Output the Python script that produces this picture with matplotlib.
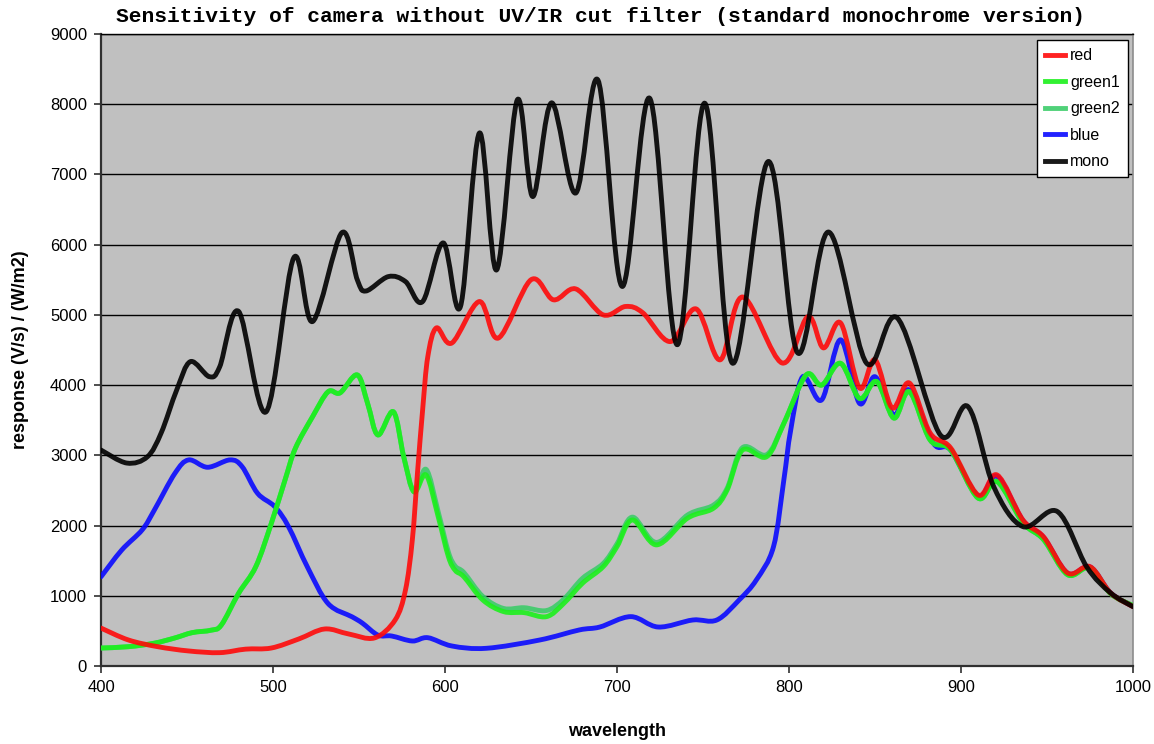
import matplotlib
matplotlib.use("Agg")
import matplotlib.pyplot as plt
from matplotlib.path import Path
from matplotlib.patches import PathPatch
from matplotlib.lines import Line2D

# values (wavelength nm, response)
mono_x = [400, 415, 427, 435, 444, 452, 463, 469, 480, 496, 512, 523,
          540, 549, 554, 567, 577, 587, 599, 609, 620, 630, 642, 651, 662, 676,
          689, 703, 719, 735, 751, 767, 788, 805, 823, 845, 863, 888, 904, 919, 936,
          956, 973, 987, 1000]
mono_y = [3075, 2890, 2980, 3320, 3930, 4335, 4120, 4260, 5050, 3620, 5810, 4905,
          6170, 5500, 5340, 5545, 5475, 5190, 6025, 5120, 7590, 5640, 8060, 6685, 8020, 6735,
          8340, 5405, 8085, 4575, 8015, 4315, 7185, 4460, 6180, 4315, 4955, 3290, 3695, 2555, 1985,
          2200, 1415, 1040, 845]

red_x = [400, 416, 433, 451, 469, 484, 499, 515, 530, 544, 559, 571, 577, 581, 584,
         587, 590, 595, 604, 620, 631, 650, 663, 676, 692, 705, 715, 731, 746, 760,
         773, 796, 811, 820, 830, 841, 850, 860, 870, 882, 894, 910, 921, 936, 948,
         962, 975, 987, 1000]
red_y = [540, 370, 275, 214, 190, 240, 256, 385, 527, 456, 400, 655, 1080, 1795, 2750,
         3650, 4405, 4815, 4600, 5190, 4670, 5500, 5215, 5370, 5000, 5120, 5030, 4620, 5085, 4360,
         5255, 4315, 4975, 4530, 4885, 3960, 4360, 3675, 4030, 3320, 3105, 2435, 2720, 2080, 1840,
         1325, 1415, 1040, 845]

blue_x = [400, 412, 424, 431, 443, 451, 462, 475, 482, 491, 501, 509, 520, 532, 546,
          552, 561, 569, 581, 590, 604, 624, 655, 678, 690, 708, 724, 744, 758, 771,
          781, 791, 797, 801, 808, 819, 830, 841, 850, 861, 870, 884, 894, 910, 921,
          936, 948, 962, 975, 987, 1000]
blue_y = [1270, 1650, 1940, 2220, 2745, 2935, 2830, 2935, 2840, 2460, 2270, 1985, 1410, 890, 700,
          610, 440, 427, 356, 403, 285, 252, 370, 513, 555, 703, 555, 655, 655, 940,
          1225, 1700, 2650, 3360, 4120, 3790, 4645, 3740, 4120, 3575, 3930, 3170, 3075, 2420, 2700,
          2070, 1830, 1320, 1410, 1040, 850]

green_x = [400, 416, 431, 443, 453, 464, 470, 480, 490, 499, 507, 513, 523, 532, 539,
           549, 555, 561, 570, 576, 582, 589, 596, 602, 606, 611, 622, 634, 646, 659,
           669, 680, 692, 700, 709, 723, 741, 756, 764, 773, 787, 797, 810, 819, 830,
           841, 851, 861, 870, 882, 894, 910, 921, 936, 948, 962, 975, 987, 1000]
green1_y = [256, 275, 325, 400, 475, 510, 585, 1035, 1415, 2030, 2650, 3100, 3550, 3905, 3890,
            4145, 3740, 3290, 3620, 2980, 2480, 2720, 2130, 1555, 1360, 1270, 940, 775, 760, 703,
            890, 1180, 1415, 1700, 2080, 1725, 2105, 2245, 2505, 3075, 2980, 3455, 4145, 4000, 4310,
            3810, 4050, 3530, 3905, 3220, 3075, 2390, 2625, 2040, 1800, 1300, 1400, 1030, 860]
green2_y = [256, 275, 325, 400, 475, 510, 585, 1035, 1415, 2030, 2650, 3100, 3550, 3905, 3890,
            4145, 3740, 3290, 3620, 2980, 2480, 2800, 2200, 1620, 1420, 1330, 990, 820, 830, 790,
            950, 1250, 1460, 1740, 2120, 1760, 2150, 2290, 2530, 3110, 3010, 3455, 4145, 4000, 4310,
            3810, 4050, 3530, 3905, 3220, 3075, 2390, 2625, 2040, 1800, 1300, 1400, 1030, 860]

series = [
    ("blue", blue_x, blue_y, "#0a0aff"),
    ("green2", green_x, green2_y, "#3dcc6a"),
    ("green1", green_x, green1_y, "#1cf01c"),
    ("red", red_x, red_y, "#ff0a0a"),
    ("mono", mono_x, mono_y, "#000000"),
]
legend_order = ["red", "green1", "green2", "blue", "mono"]


def smooth_path(xs, ys):
    # excel-like smoothed line: bezier segments through the read points
    pts = list(zip(xs, ys))
    verts = [pts[0]]
    codes = [Path.MOVETO]
    n = len(pts)
    for i in range(n - 1):
        p0 = pts[max(i - 1, 0)]
        p1 = pts[i]
        p2 = pts[i + 1]
        p3 = pts[min(i + 2, n - 1)]
        c1 = (p1[0] + (p2[0] - p0[0]) / 6, p1[1] + (p2[1] - p0[1]) / 6)
        c2 = (p2[0] - (p3[0] - p1[0]) / 6, p2[1] - (p3[1] - p1[1]) / 6)
        verts += [c1, c2, p2]
        codes += [Path.CURVE4] * 3
    return Path(verts, codes)


plt.rcParams["font.family"] = ["Liberation Sans", "DejaVu Sans"]

fig = plt.figure(figsize=(11.54, 7.44), dpi=100)
ax = fig.add_axes([101 / 1154, 78 / 744, 1032 / 1154, 632 / 744])
ax.set_facecolor("#c0c0c0")

handles = {}
for name, xs, ys, col in series:
    patch = PathPatch(smooth_path(xs, ys), fill=False, edgecolor=col,
                      linewidth=3.5, alpha=0.9, capstyle="round", joinstyle="round", zorder=3)
    ax.add_patch(patch)
    handles[name] = Line2D([], [], color=col, linewidth=3.5, alpha=0.9)

ax.set_xlim(400, 1000)
ax.set_ylim(0, 9000)
ax.set_xticks(range(400, 1001, 100))
ax.set_yticks(range(0, 9001, 1000))
ax.grid(axis="y", color="black", linewidth=1.0, zorder=1)
ax.set_axisbelow(True)

ax.tick_params(axis="both", direction="out", length=5, width=1.2, color="#303030",
               labelsize=12, pad=5)
for side in ["left", "bottom"]:
    ax.spines[side].set_color("#303030")
    ax.spines[side].set_linewidth(1.6)
ax.spines["top"].set_color("black")
ax.spines["top"].set_linewidth(1.0)
ax.spines["right"].set_color("#8c8c8c")
ax.spines["right"].set_linewidth(1.2)

ax.set_xlabel("wavelength", fontsize=13, fontweight="bold", labelpad=20)
ax.set_ylabel("response (V/s) / (W/m2)", fontsize=13, fontweight="bold", labelpad=15)

fig.text(601 / 1154, 1 - 16 / 744, "Sensitivity of camera without UV/IR cut filter (standard monochrome version)",
         family="Liberation Mono", fontweight="bold", fontsize=15.3, ha="center", va="center")

leg = ax.legend([handles[k] for k in legend_order], legend_order, loc="upper right",
                bbox_to_anchor=(0.995, 0.99), borderaxespad=0, fontsize=11.5,
                handlelength=1.3, handletextpad=0.3, labelspacing=0.72,
                borderpad=0.5, fancybox=False, framealpha=1, edgecolor="black")
leg.get_frame().set_linewidth(1.0)

fig.savefig("out.png", dpi=100)
